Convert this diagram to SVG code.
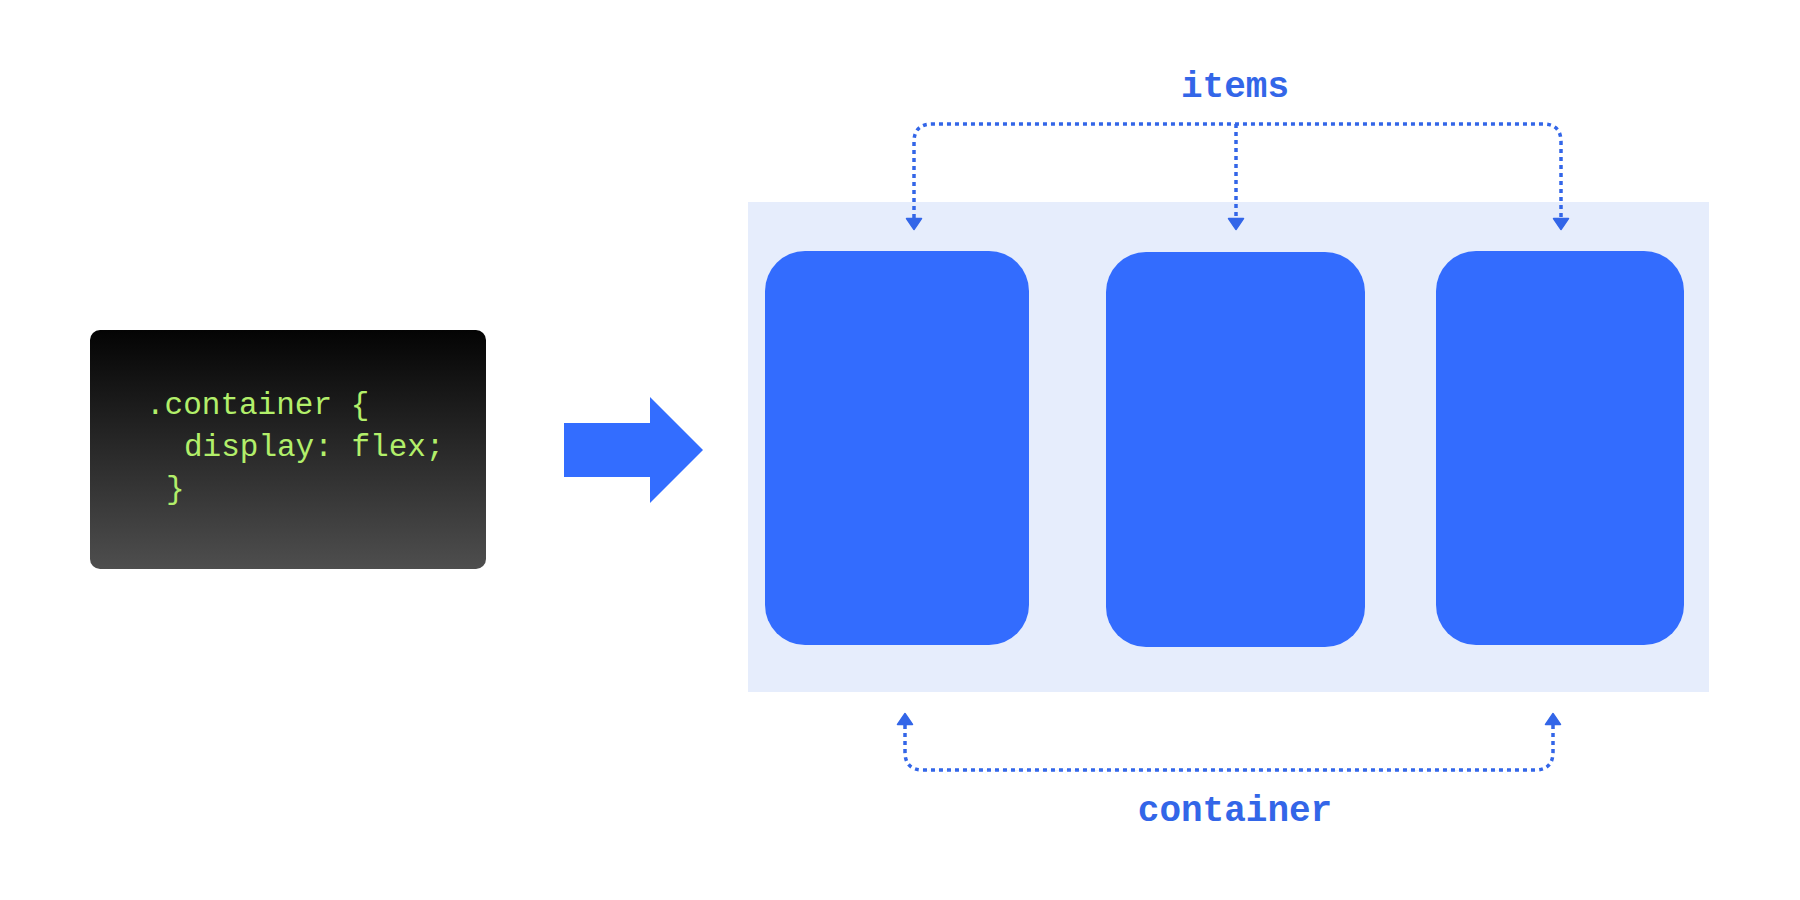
<svg xmlns="http://www.w3.org/2000/svg" width="1800" height="900" viewBox="0 0 1800 900">
  <defs>
    <linearGradient id="codeGrad" x1="0" y1="0" x2="0" y2="1">
      <stop offset="0" stop-color="#040404"/>
      <stop offset="1" stop-color="#4e4e4e"/>
    </linearGradient>
    <marker id="arrowHead" viewBox="0 0 14 18" refX="1" refY="9" markerWidth="14" markerHeight="18" markerUnits="userSpaceOnUse" orient="auto-start-reverse">
      <path d="M1.5,1.5 L12.5,9 L1.5,16.5 Z" fill="#3366e8" stroke="#3366e8" stroke-width="1.5" stroke-linejoin="round"/>
    </marker>
    <style>
      .code { font-family: "Liberation Mono", "Courier New", monospace; font-size: 31px; fill: #b2ef6a; }
      .label { font-family: "Liberation Mono", "Courier New", monospace; font-size: 36px; font-weight: bold; fill: #3366e8; text-anchor: middle; }
      .item { fill: #336cfe; }
      .dotted { fill: none; stroke: #3366e8; stroke-width: 3.5; stroke-dasharray: 4 4; }
    </style>
  </defs>
  <rect width="1800" height="900" fill="#ffffff"/>

  <g id="code-box">
    <rect x="90" y="330" width="396" height="239" rx="10" fill="url(#codeGrad)"/>
    <text class="code" x="146" y="414">.container {</text>
    <text class="code" x="184" y="456">display: flex;</text>
    <text class="code" x="166" y="498">}</text>
  </g>

  <g id="big-arrow">
    <polygon points="564,423 650,423 650,397 703,450 650,503 650,477 564,477" fill="#336dff"/>
  </g>

  <g id="container">
    <rect x="748" y="202" width="961" height="490" fill="#e6edfc"/>
  </g>
  <g id="item-1">
    <rect class="item" x="765" y="251" width="264" height="394" rx="40"/>
  </g>
  <g id="item-2">
    <rect class="item" x="1106" y="252" width="259" height="395" rx="40"/>
  </g>
  <g id="item-3">
    <rect class="item" x="1436" y="251" width="248" height="394" rx="40"/>
  </g>

  <g id="label-items">
    <text class="label" x="1235" y="97">items</text>
  </g>
  <g id="label-container">
    <text class="label" x="1235" y="821">container</text>
  </g>

  <g id="connectors">
    <path class="dotted" d="M914,218 L914,142 Q914,124 932,124 L1543,124 Q1561,124 1561,142 L1561,218" marker-start="url(#arrowHead)" marker-end="url(#arrowHead)"/>
    <path class="dotted" d="M1236,124 L1236,218" marker-end="url(#arrowHead)"/>
    <path class="dotted" d="M905,725 L905,752 Q905,770 923,770 L1535,770 Q1553,770 1553,752 L1553,725" marker-start="url(#arrowHead)" marker-end="url(#arrowHead)"/>
  </g>
</svg>
